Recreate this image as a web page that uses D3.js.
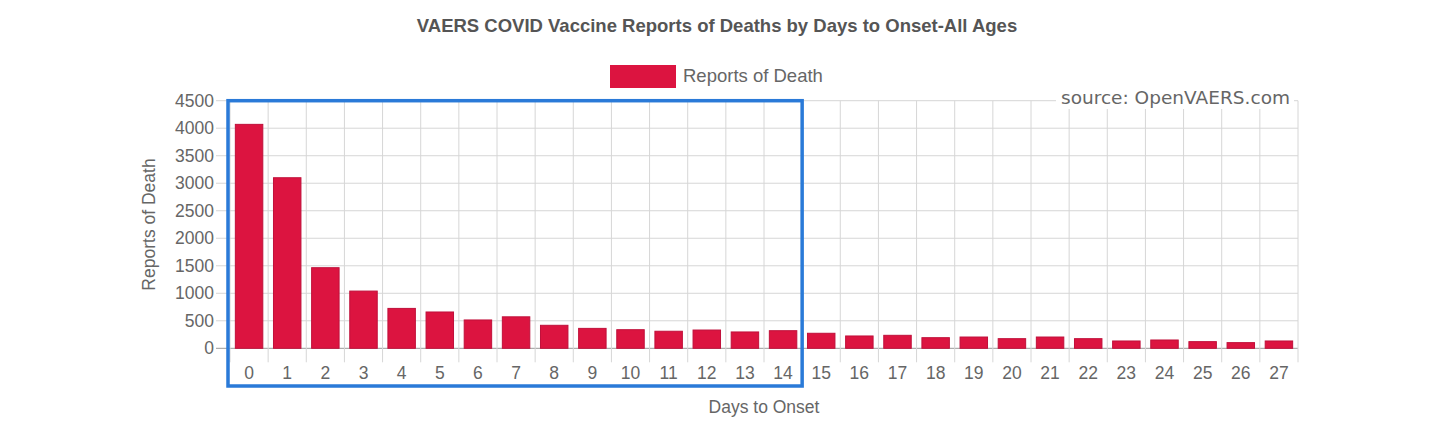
<!DOCTYPE html>
<html>
<head>
<meta charset="utf-8">
<script src="https://cdn.jsdelivr.net/npm/d3@7"></script>
<style>
  body { margin: 0; background: #fff; }
  svg { display: block; font-family: "Liberation Sans", Arial, sans-serif; }
</style>
</head>
<body>
<div id="chart"></div>
<script>
// Data
const days = d3.range(0, 28).map(String);
const deaths = [4070, 3100, 1465, 1040, 725, 660, 515, 572, 418, 362, 338, 310, 332, 297, 320,
  273, 224, 236, 193, 205, 175, 205, 175, 133, 151, 121, 103, 133];
const yTicks = [0, 500, 1000, 1500, 2000, 2500, 3000, 3500, 4000, 4500];
const highlightDays = ["0", "14"]; // first and last day inside the blue box

const width = 1456, height = 429;
const plotLeft = 230, plotRight = 1298, plotTop = 100.7, plotBottom = 348.3;
const tickLen = 14;

const svg = d3.select("#chart").append("svg")
  .attr("width", width)
  .attr("height", height);

const x = d3.scaleBand().domain(days).range([plotLeft, plotRight]).padding(0);
const y = d3.scaleLinear().domain([0, 4500]).range([plotBottom, plotTop]);

// horizontal gridlines
svg.append("g").selectAll("line")
  .data(yTicks)
  .enter().append("line")
    .attr("x1", plotLeft - tickLen).attr("x2", plotRight)
    .attr("y1", d => y(d)).attr("y2", d => y(d))
    .attr("stroke", d => d === 0 ? "#999" : "#d6d6d6")
    .attr("stroke-width", 1);

// vertical gridlines at band edges
const edges = days.map(d => x(d)).concat([plotRight]);
svg.append("g").selectAll("line")
  .data(edges)
  .enter().append("line")
    .attr("x1", d => d).attr("x2", d => d)
    .attr("y1", plotTop).attr("y2", plotBottom + tickLen)
    .attr("stroke", "#d6d6d6")
    .attr("stroke-width", 1);

// y axis labels
svg.append("g").selectAll("text")
  .data(yTicks)
  .enter().append("text")
    .attr("x", plotLeft - tickLen - 2)
    .attr("y", d => y(d))
    .attr("dy", "0.35em")
    .attr("text-anchor", "end")
    .attr("font-size", 17.5)
    .attr("fill", "#666")
    .text(d => d);

// bars (chart.js style: 0.8 * 0.9 of the band)
const barW = x.bandwidth() * 0.72;
svg.append("g").selectAll("rect")
  .data(deaths)
  .enter().append("rect")
    .attr("x", (d, i) => x(days[i]) + (x.bandwidth() - barW) / 2)
    .attr("y", d => y(d))
    .attr("width", barW)
    .attr("height", d => y(0) - y(d))
    .attr("fill", "#dc1440")
    .attr("stroke", "#c0103a")
    .attr("stroke-width", 1);

// x axis labels
svg.append("g").selectAll("text")
  .data(days)
  .enter().append("text")
    .attr("x", d => x(d) + x.bandwidth() / 2)
    .attr("y", 379)
    .attr("text-anchor", "middle")
    .attr("font-size", 17.5)
    .attr("fill", "#666")
    .text(d => d);

// axis titles
svg.append("text")
  .attr("transform", "translate(155," + (y(2250)) + ") rotate(-90)")
  .attr("text-anchor", "middle")
  .attr("font-size", 17.5)
  .attr("fill", "#666")
  .text("Reports of Death");

svg.append("text")
  .attr("x", (plotLeft + plotRight) / 2)
  .attr("y", 413)
  .attr("text-anchor", "middle")
  .attr("font-size", 17.5)
  .attr("fill", "#666")
  .text("Days to Onset");

// title
svg.append("text")
  .attr("x", 717)
  .attr("y", 32)
  .attr("text-anchor", "middle")
  .attr("font-size", 18.5)
  .attr("font-weight", "bold")
  .attr("fill", "#555")
  .text("VAERS COVID Vaccine Reports of Deaths by Days to Onset-All Ages");

// legend
svg.append("rect")
  .attr("x", 610).attr("y", 65)
  .attr("width", 66).attr("height", 23)
  .attr("fill", "#dc1440");
svg.append("text")
  .attr("x", 683).attr("y", 82)
  .attr("font-size", 18.5)
  .attr("fill", "#666")
  .text("Reports of Death");

// source watermark on a white patch
svg.append("rect")
  .attr("x", 1056).attr("y", 86)
  .attr("width", 238).attr("height", 23)
  .attr("fill", "#fff");
svg.append("text")
  .attr("x", 1290).attr("y", 103.5)
  .attr("text-anchor", "end")
  .attr("font-family", "'DejaVu Sans', sans-serif")
  .attr("font-size", 17)
  .attr("fill", "#666")
  .attr("textLength", 229)
  .attr("lengthAdjust", "spacingAndGlyphs")
  .text("source: OpenVAERS.com");

// blue highlight box around days 0..14
const bx0 = x(highlightDays[0]) - 2;
const bx1 = x(highlightDays[1]) + x.bandwidth();
svg.append("rect")
  .attr("x", bx0).attr("y", y(4500))
  .attr("width", bx1 - bx0).attr("height", 386 - y(4500))
  .attr("fill", "none")
  .attr("stroke", "#2a7ad8")
  .attr("stroke-width", 3.5);
</script>
</body>
</html>
